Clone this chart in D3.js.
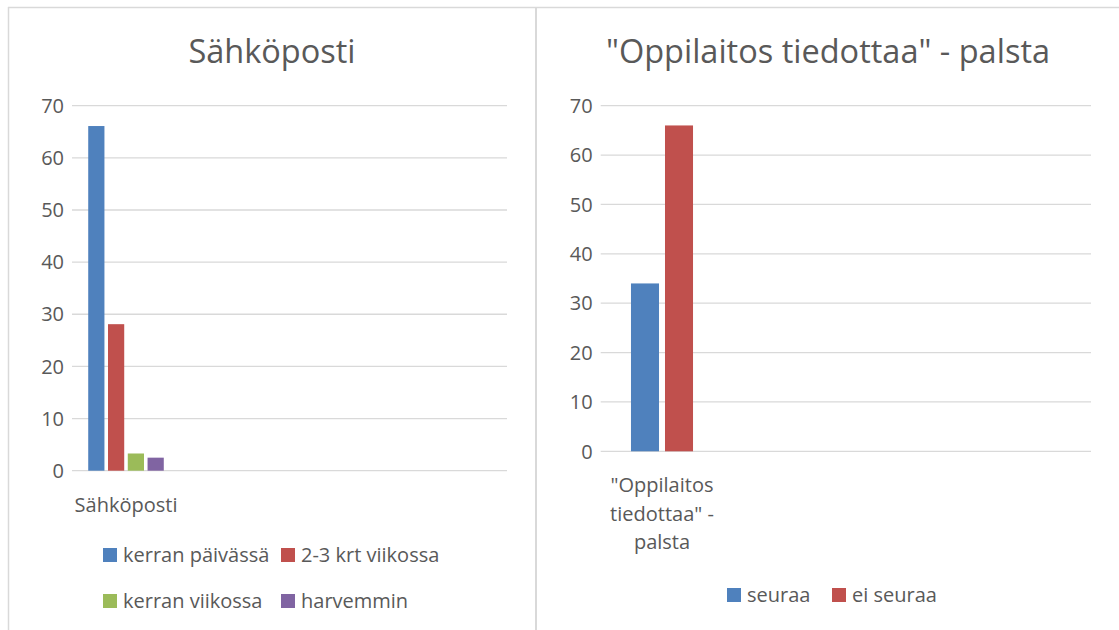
<!DOCTYPE html>
<html>
<head>
<meta charset="utf-8">
<script src="https://cdn.jsdelivr.net/npm/d3@7"></script>
<style>
  body { margin: 0; background: #fff; }
  svg text { font-family: "Open Sans", sans-serif; fill: #595959; }
</style>
</head>
<body>
<svg id="canvas" width="1119" height="630"></svg>
<script>
// data
let leftCategories = ['Sähköposti']
let leftSeries = ['kerran päivässä', '2-3 krt viikossa', 'kerran viikossa', 'harvemmin']
let leftValues = [66.1, 28.1, 3.3, 2.5]

let rightCategories = ['"Oppilaitos tiedottaa" - palsta']
let rightCategoryLines = ['"Oppilaitos', 'tiedottaa" -', 'palsta']
let rightSeries = ['seuraa', 'ei seuraa']
let rightValues = [34, 66]

let yTicks = [0, 10, 20, 30, 40, 50, 60, 70]
let colors = ['#4f81bd', '#c0504d', '#9bbb59', '#8064a2']

let canvas = d3.select('#canvas')

// frames
canvas.append('line').attr('x1', 8).attr('x2', 1119).attr('y1', 7.5).attr('y2', 7.5)
    .attr('stroke', '#d9d9d9').attr('stroke-width', 1.5)
canvas.append('line').attr('x1', 8.5).attr('x2', 8.5).attr('y1', 7).attr('y2', 630)
    .attr('stroke', '#d9d9d9').attr('stroke-width', 1.5)
canvas.append('line').attr('x1', 536).attr('x2', 536).attr('y1', 7).attr('y2', 630)
    .attr('stroke', '#d9d9d9').attr('stroke-width', 2)

let drawChart = (opt) => {
    let g = canvas.append('g')

    g.append('text')
        .attr('x', opt.titleX).attr('y', 63)
        .attr('text-anchor', 'middle')
        .style('font-size', '32.5px')
        .text(opt.title)

    let y = d3.scaleLinear().domain([0, 70]).range([opt.y0, 105.7])

    let x0 = d3.scaleBand().domain(opt.categories).range(opt.bandRange)
    let x1 = d3.scaleBand().domain(opt.series)
        .range([0, x0.bandwidth()])
        .paddingInner(opt.padIn).paddingOuter(opt.padOut)

    // gridlines
    g.selectAll('.grid')
        .data(yTicks)
        .enter()
        .append('line')
        .attr('x1', opt.plotX[0]).attr('x2', opt.plotX[1])
        .attr('y1', (d) => y(d)).attr('y2', (d) => y(d))
        .attr('stroke', '#d9d9d9').attr('stroke-width', 1.3)

    g.selectAll('.tick')
        .data(yTicks)
        .enter()
        .append('text')
        .attr('x', opt.plotX[0] - 8)
        .attr('y', (d) => y(d))
        .attr('dy', '0.36em')
        .attr('text-anchor', 'end')
        .style('font-size', '20px')
        .text((d) => d)

    // bars
    g.selectAll('.bar')
        .data(opt.values)
        .enter()
        .append('rect')
        .attr('x', (d, i) => x0(opt.categories[0]) + x1(opt.series[i]))
        .attr('width', x1.bandwidth())
        .attr('y', (d) => y(d))
        .attr('height', (d) => y(0) - y(d))
        .attr('fill', (d, i) => colors[i])

    // category label
    let cx = x0(opt.categories[0]) + x0.bandwidth() / 2
    g.selectAll('.cat')
        .data(opt.catLines)
        .enter()
        .append('text')
        .attr('x', cx)
        .attr('y', (d, i) => opt.catY + i * 28.5)
        .attr('text-anchor', 'middle')
        .style('font-size', '20px')
        .text((d) => d)

    // legend
    let leg = g.selectAll('.leg')
        .data(opt.series)
        .enter()
        .append('g')
        .attr('transform', (d, i) => 'translate(' + opt.legend[i][0] + ',' + opt.legend[i][1] + ')')
    leg.append('rect')
        .attr('width', 14).attr('height', 14)
        .attr('fill', (d, i) => colors[i])
    leg.append('text')
        .attr('x', 20).attr('y', 14)
        .style('font-size', '20px')
        .text((d) => d)
}

drawChart({
    title: 'Sähköposti',
    titleX: 272,
    categories: leftCategories,
    catLines: leftCategories,
    series: leftSeries,
    values: leftValues,
    y0: 470.7,
    plotX: [72, 507],
    bandRange: [72, 180],
    padIn: 0.18,
    padOut: 0.82,
    catY: 512,
    legend: [[103, 548], [281, 548], [103, 594], [281, 594]]
})

drawChart({
    title: rightCategories[0],
    titleX: 828,
    categories: rightCategories,
    catLines: rightCategoryLines,
    series: rightSeries,
    values: rightValues,
    y0: 451.3,
    plotX: [600.7, 1091],
    bandRange: [600.7, 723.3],
    padIn: 0.176,
    padOut: 0.89,
    catY: 492,
    legend: [[727, 588], [832, 588]]
})
</script>
</body>
</html>
